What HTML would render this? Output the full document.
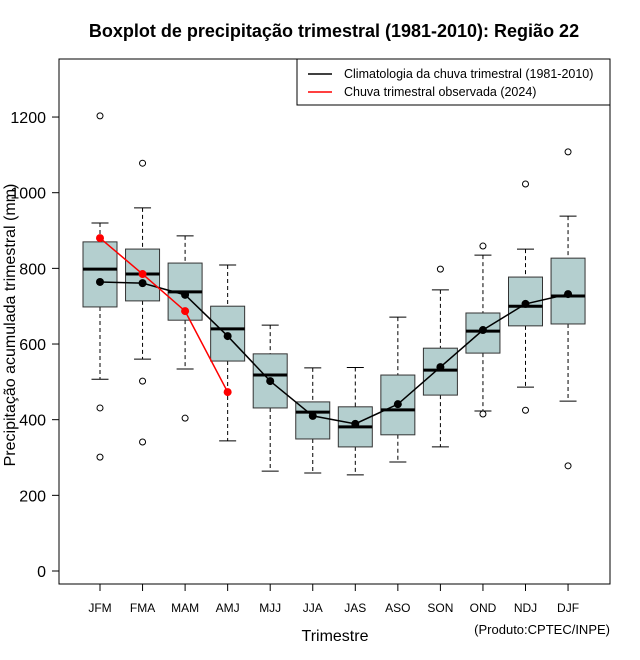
<!DOCTYPE html>
<html><head><meta charset="utf-8"><style>
body{margin:0;background:#fff;}
svg{display:block;font-family:"Liberation Sans",sans-serif;}
</style></head><body>
<svg id="chart" width="640" height="660"></svg>
<script>
const categories=["JFM","FMA","MAM","AMJ","MJJ","JJA","JAS","ASO","SON","OND","NDJ","DJF"];
const whiskerLow=[507,560,534,344,264,259,254,288,328,423,486,449];
const q1=[698,714,663,555,431,349,328,360,465,576,648,653];
const median=[798,785,738,640,518,420,381,426,531,634,700,727];
const q3=[870,851,814,700,574,447,434,518,589,682,777,827];
const whiskerHigh=[920,960,886,809,650,537,538,671,743,835,851,938];
const outliers=[[1203,431,301],[1078,502,341],[404],[],[],[],[],[],[798],[859,415],[1023,425],[1108,278]];
const climMean=[764,761,730,621,502,410,389,441,539,637,706,732];
const observed2024=[880,785,687,473];
const yTicks=[0,200,400,600,800,1000,1200];

const NS="http://www.w3.org/2000/svg";
const svg=document.getElementById('chart');
function el(t,a,p){const e=document.createElementNS(NS,t);for(const k in a)e.setAttribute(k,a[k]);(p||svg).appendChild(e);return e;}
const X=i=>100+i*42.55;
const Y=v=>571-v*0.3783;

let t=el('text',{x:334,y:37,'text-anchor':'middle','font-size':18,'font-weight':'bold'});
t.textContent="Boxplot de precipitação trimestral (1981-2010): Região 22";



const ya=el('g',{});


yTicks.forEach(v=>{
  el('line',{x1:52,x2:59,y1:Y(v),y2:Y(v),stroke:'#000'},ya);
  const tx=el('text',{x:46,y:Y(v)+6,'text-anchor':'end','font-size':16},ya);
  tx.textContent=v;
});
t=el('text',{x:0,y:0,transform:'translate(15,325) rotate(-90)','text-anchor':'middle','font-size':16});
t.textContent="Precipitação acumulada trimestral (mm)";



const xa=el('g',{});


categories.forEach((c,i)=>{
  el('line',{x1:X(i),x2:X(i),y1:584,y2:591,stroke:'#000'},xa);
  const tx=el('text',{x:X(i),y:612,'text-anchor':'middle','font-size':12},xa);
  tx.textContent=c;
});
t=el('text',{x:335,y:641,'text-anchor':'middle','font-size':16});
t.textContent="Trimestre";


t=el('text',{x:610,y:634,'text-anchor':'end','font-size':13});
t.textContent="(Produto:CPTEC/INPE)";



categories.forEach((c,i)=>{
  const g=el('g',{});
  
  
  const x=X(i),w=17;
  el('line',{x1:x,x2:x,y1:Y(whiskerHigh[i]),y2:Y(q3[i]),stroke:'#000','stroke-dasharray':'4,3'},g);
  el('line',{x1:x,x2:x,y1:Y(q1[i]),y2:Y(whiskerLow[i]),stroke:'#000','stroke-dasharray':'4,3'},g);
  el('line',{x1:x-8.5,x2:x+8.5,y1:Y(whiskerHigh[i]),y2:Y(whiskerHigh[i]),stroke:'#000'},g);
  el('line',{x1:x-8.5,x2:x+8.5,y1:Y(whiskerLow[i]),y2:Y(whiskerLow[i]),stroke:'#000'},g);
  el('rect',{x:x-w,y:Y(q3[i]),width:2*w,height:Y(q1[i])-Y(q3[i]),fill:'#b4cfcf',stroke:'#333','stroke-width':1},g);
  el('line',{x1:x-w,x2:x+w,y1:Y(median[i]),y2:Y(median[i]),stroke:'#000','stroke-width':3},g);
  outliers[i].forEach(o=>el('circle',{cx:x,cy:Y(o),r:3,fill:'none',stroke:'#000'},g));
});

const cl=el('g',{});


el('polyline',{points:climMean.map((v,i)=>X(i)+','+Y(v)).join(' '),fill:'none',stroke:'#000','stroke-width':1.5},cl);
climMean.forEach((v,i)=>el('circle',{cx:X(i),cy:Y(v),r:4,fill:'#000'},cl));

const ob=el('g',{});


el('polyline',{points:observed2024.map((v,i)=>X(i)+','+Y(v)).join(' '),fill:'none',stroke:'#f00','stroke-width':1.5},ob);
observed2024.forEach((v,i)=>el('circle',{cx:X(i),cy:Y(v),r:4,fill:'#f00'},ob));

el('rect',{x:59,y:59,width:551,height:525,fill:'none',stroke:'#000'});

const lg=el('g',{});


el('rect',{x:297,y:59,width:313,height:46,fill:'#fff',stroke:'#000'},lg);
el('line',{x1:308,x2:332,y1:74,y2:74,stroke:'#000','stroke-width':1.5},lg);
el('line',{x1:308,x2:332,y1:92,y2:92,stroke:'#f00','stroke-width':1.5},lg);
let l1=el('text',{x:344,y:78,'font-size':12.5},lg);l1.textContent="Climatologia da chuva trimestral (1981-2010)";
let l2=el('text',{x:344,y:96,'font-size':12.5},lg);l2.textContent="Chuva trimestral observada (2024)";
</script>
</body></html>
